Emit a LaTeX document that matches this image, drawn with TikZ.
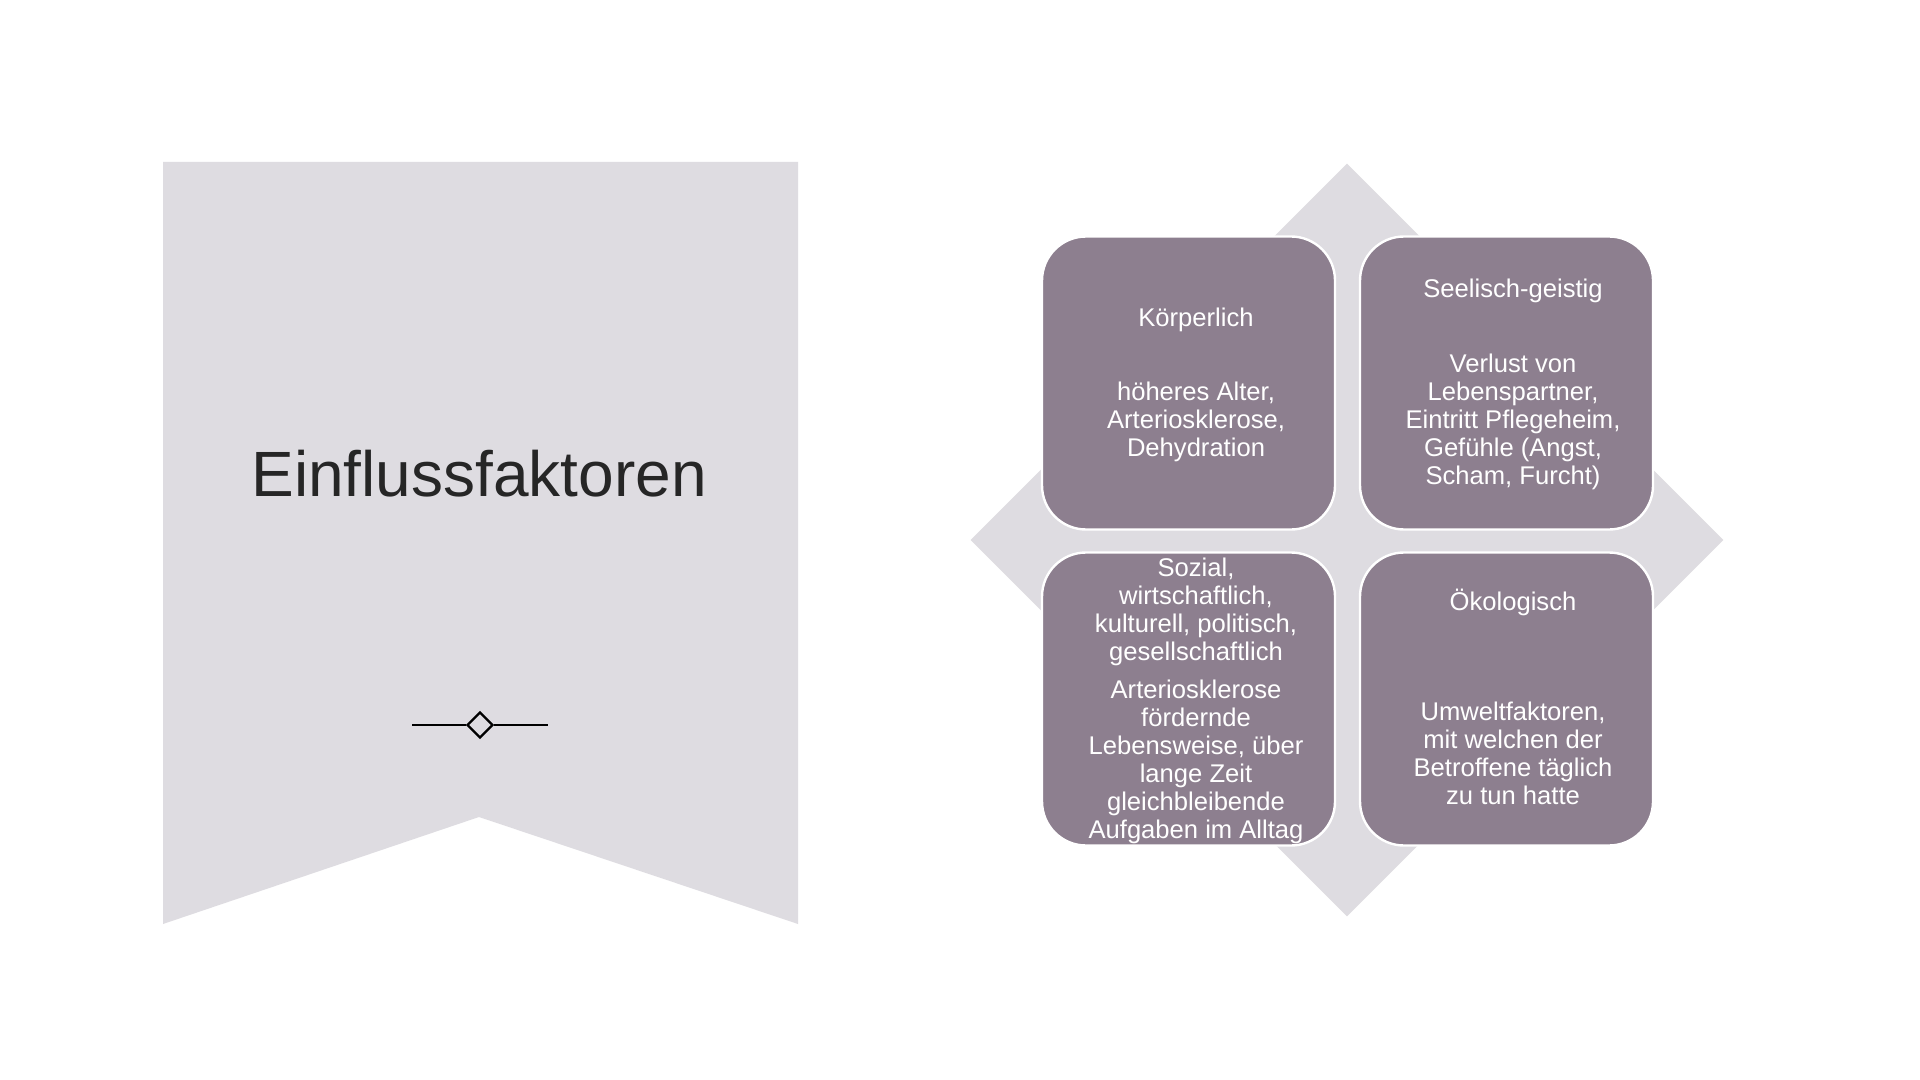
\documentclass[tikz,border=0pt]{standalone}
\usepackage{fontspec}
\setmainfont{Liberation Sans}
\usetikzlibrary{shapes.geometric}
\definecolor{bannergray}{HTML}{DEDCE1}
\definecolor{mauve}{HTML}{8D7F8F}
\definecolor{titlegray}{HTML}{262626}

\begin{document}
\begin{tikzpicture}[x=0.5pt, y=-0.5pt, font=\fontsize{12.8}{14}\selectfont, tile/.style = {draw=white, line width=1.2pt, fill=mauve, rounded corners=22pt, minimum size=146.5pt, inner sep=0pt}, txt/.style = {text=white, align=center, inner sep=0pt}, orn/.style = {diamond, draw=black, line width=1.2pt, fill=bannergray, minimum size=13pt, inner sep=0pt}]
                \useasboundingbox[fill=white] (0,0) rectangle (1920,1080);
                % banner on the left
                \fill[bannergray] (163,162) -- (798,162) -- (798,924) -- (479,817) -- (163,924) -- cycle;
                \node[font=\fontsize{32}{38}\selectfont, text=titlegray, anchor=base, inner sep=0pt] (title) at (479,496) {Einflussfaktoren};
                \coordinate (ol) at (412,725);
                \coordinate (or) at (548,725);
                \node[orn] (orn) at (480,725) {};
                \draw[line width=1.2pt] (ol) -- (orn.west);
                \draw[line width=1.2pt] (orn.east) -- (or);
                % matrix on the right
                \node[diamond, fill=bannergray, minimum size=376.5pt, inner sep=0pt] (dia) at (1347,540) {};
                \node[tile] (t0) at (1188.5,383) {};
                \node[tile] (t1) at (1506.5,383) {};
                \node[tile] (t2) at (1188.5,699) {};
                \node[tile] (t3) at (1506.5,699) {};
                \node[txt] (k0) at (1196,320) {Körperlich};
                \node[txt] (k1) at (1196,422) {höheres Alter,\\Arteriosklerose,\\Dehydration};
                \node[txt] (s0) at (1513,291) {Seelisch-geistig};
                \node[txt] (s1) at (1513,422) {Verlust von\\Lebenspartner,\\Eintritt Pflegeheim,\\Gefühle (Angst,\\Scham, Furcht)};
                \node[txt] (g0) at (1196,612) {Sozial,\\wirtschaftlich,\\kulturell, politisch,\\gesellschaftlich};
                \node[txt] (g1) at (1196,762) {Arteriosklerose\\fördernde\\Lebensweise, über\\lange Zeit\\gleichbleibende\\Aufgaben im Alltag};
                \node[txt] (o0) at (1513,602) {Ökologisch};
                \node[txt] (o1) at (1513,753) {Umweltfaktoren,\\mit welchen der\\Betroffene täglich\\zu tun hatte};
            \end{tikzpicture}
\end{document}
